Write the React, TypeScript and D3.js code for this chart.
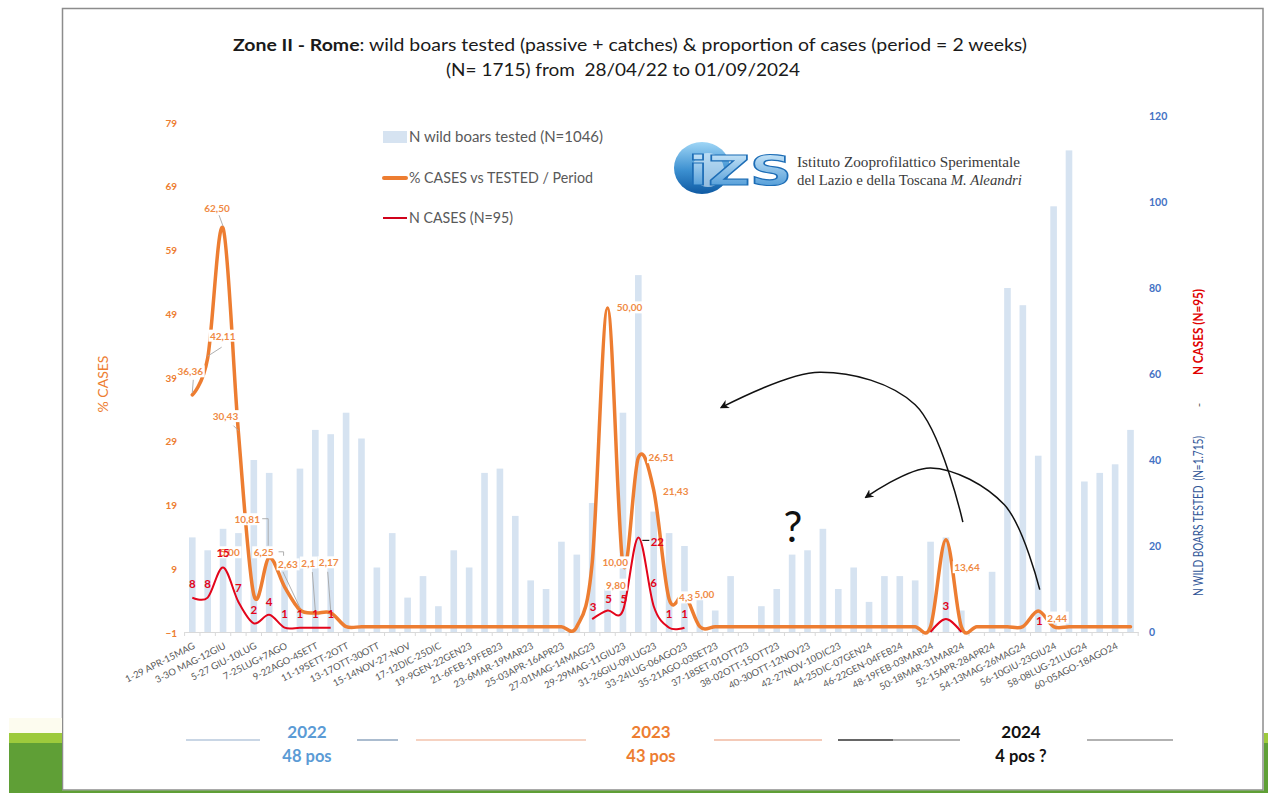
import { useEffect, useRef } from "react";
import * as d3 from "d3";

const W = 1268;
const H = 793;
const FONT = "Lato, 'Liberation Sans', Arial, sans-serif";

const ORANGE = "#ed7d31";
const RED = "#e3051b";
const BAR = "#d6e3f1";
const GREY_TXT = "#595959";

// x-axis labels, one every second fortnight
const TICK_LABELS = [
  "1-29 APR-15MAG", "3-3O MAG-12GIU", "5-27 GIU-10LUG", "7-25LUG+7AGO", "9-22AGO-4SETT",
  "11-19SETT-2OTT", "13-17OTT-30OTT", "15-14NOV-27-NOV", "17-12DIC-25DIC", "19-9GEN-22GEN23",
  "21-6FEB-19FEB23", "23-6MAR-19MAR23", "25-03APR-16APR23", "27-01MAG-14MAG23", "29-29MAG-11GIU23",
  "31-26GIU-09LUG23", "33-24LUG-06AGO23", "35-21AGO-03SET23", "37-18SET-01OTT23", "38-02OTT-15OTT23",
  "40-30OTT-12NOV23", "42-27NOV-10DIC23", "44-25DIC-07GEN24", "46-22GEN-04FEB24", "48-19FEB-03MAR24",
  "50-18MAR-31MAR24", "52-15APR-28APR24", "54-13MAG-26MAG24", "56-10GIU-23GIU24", "58-08LUG-21LUG24",
  "60-05AGO-18AGO24",
];

// N wild boars tested per fortnight (right axis)
const TESTED = [
  22, 19, 24, 23, 40, 37, 16, 38, 47, 46,
  51, 45, 15, 23, 8, 13, 6, 19, 15, 37, 38, 27, 12, 10, 21, 18,
  30, 10, 51, 83, 28, 23, 20,
  8, 5, 13, 0, 6, 10, 18, 19, 24, 10, 15, 7, 13, 13, 12, 21, 22, 5, 0, 14,
  80, 76, 41, 99, 112, 35, 37, 39, 47,
];

// % cases vs tested per fortnight (left axis)
const PCT = [
  36.36, 42.11, 62.5, 30.43, 5.0, 10.81, 6.25, 2.63, 2.13, 2.17,
  0, 0, 0, 0, 0, 0, 0, 0, 0, 0, 0, 0, 0, 0, 0, 0,
  10.0, 50.0, 9.8, 26.51, 21.43, 4.35, 5.0,
  0, 0, 0, 0, 0, 0, 0, 0, 0, 0, 0, 0, 0, 0, 0, 0,
  13.64, 0, 0, 0, 0, 0, 2.44, 0, 0, 0, 0, 0, 0,
];

// N cases per fortnight (right axis); null = not drawn
const CASES: (number | null)[] = [
  8, 8, 15, 7, 2, 4, 1, 1, 1, 1,
  null, null, null, null, null, null, null, null, null, null, null, null, null, null, null, null,
  3, 5, 5, 22, 6, 1, 1,
  null, null, null, null, null, null, null, null, null, null, null, null, null, null, null,
  0, 3, 0, null, null, null, null, 1, null, null, null, null, null, null,
];

// data labels of the % series as printed
const PCT_LABEL_IDX = [0, 1, 2, 3, 4, 5, 6, 7, 8, 9, 26, 27, 28, 29, 30, 31, 32, 49, 55];
const PCT_LABEL_TEXT = [
  "36,36", "42,11", "62,50", "30,43", "5,00", "10,81", "6,25", "2,63", "2,1", "2,17",
  "10,00", "50,00", "9,80", "26,51", "21,43", "4,3", "5,00", "13,64", "2,44",
];
const CASES_LABEL_IDX = [0, 1, 2, 3, 4, 5, 6, 7, 8, 9, 26, 27, 28, 29, 30, 31, 32, 49, 55];

const YEARS = ["2022", "2023", "2024"];
const YEAR_POS = ["48 pos", "43 pos", "4 pos ?"];

// --- layout (px offsets of labels from their point) ---
const PCT_LABEL_OFFSET: [number, number][] = [
  [-2, -23], [15, -22], [-6, -20], [-13, -16], [-24, -42], [-22, -38], [-21, -34], [-12, -45], [-7, -50], [-2, -50],
  [23, 0], [22, 0], [-7, 21], [23, 0], [22, 1], [17, -1], [20, 0], [21, 28], [19, 7],
];
// leader start relative to the label centre, null = no leader
const PCT_LEADER: ([number, number] | null)[] = [
  [3, 8], [-1, 11], [2, 7], [8, 9], null, null, null, [-5, 7], [4, 9], [-1, 9],
  null, null, null, null, null, null, null, null, null,
];
const CASES_LABEL_OFFSET: Record<number, [number, number]> = {
  2: [0, -15], 4: [0, -13], 5: [0, -13], 26: [1, -12], 27: [1, -12], 28: [1, -12],
  29: [19, 5], 30: [0, -23], 49: [0, -13], 55: [1, -7],
};
// hand-drawn arrows, points in (period index, %) space
const ARROWS: [number, number][][] = [
  [[50.1, 16.4], [47.0, 34.8], [40.8, 39.9], [34.4, 34.4]],
  [[55.1, 5.8], [52.8, 19.1], [48.0, 24.9], [43.8, 20.3]],
];
const YEAR_X = [307, 651, 1021];
const YEAR_RULES: [number, number, string][] = [
  [186, 260, "#b7c9dd"], [357, 398, "#8fa6bf"], [416, 586, "#f3c3ad"], [714, 822, "#f0b9a0"],
  [838, 893, "#333"], [893, 960, "#999"], [1087, 1173, "#999"],
];

export default function App() {
  const ref = useRef<SVGSVGElement>(null);

  useEffect(() => {
    if (!ref.current) return;
    const svg = d3.select(ref.current);
    svg.selectAll("*").remove();

    const n = TESTED.length;
    const x = d3.scaleBand<number>().domain(d3.range(n)).range([184.6, 1138.2]);
    const cx = (i: number) => (x(i) ?? 0) + x.bandwidth() / 2;
    const xi = d3.scaleLinear().domain([0, n - 1]).range([cx(0), cx(n - 1)]);
    const yPct = d3.scaleLinear().domain([-1, 79]).range([633, 123]);
    const yN = d3.scaleLinear().domain([0, 120]).range([632, 116]);
    const base = yN(0);

    // page + slide frame + green deco
    svg.append("rect").attr("width", W).attr("height", H).attr("fill", "#fff");
    svg.append("rect").attr("x", 62.5).attr("y", 8.5).attr("width", 1200.5).attr("height", 781.5)
      .attr("fill", "#fff").attr("stroke", "#8c8c8c").attr("stroke-width", 1.5);
    svg.append("rect").attr("x", 9).attr("y", 718).attr("width", 53).attr("height", 15).attr("fill", "#fdfcef");
    [[9, 53], [1264, 4]].forEach(([gx, gw]) => {
      svg.append("rect").attr("x", gx).attr("y", 733).attr("width", gw).attr("height", 10).attr("fill", "#9dca3c");
      svg.append("rect").attr("x", gx).attr("y", 743).attr("width", gw).attr("height", 50).attr("fill", "#5f9f36");
    });
    svg.append("rect").attr("x", 9).attr("y", 790.5).attr("width", 1259).attr("height", 3).attr("fill", "#5f9f36");

    // title
    const t1 = svg.append("text").attr("x", 233).attr("y", 51)
      .attr("font-family", FONT).attr("font-size", 17).attr("fill", "#1a1a1a")
      .attr("textLength", 794).attr("lengthAdjust", "spacingAndGlyphs");
    t1.append("tspan").attr("font-weight", "bold").text("Zone II - Rome");
    t1.append("tspan").text(": wild boars tested (passive + catches) & proportion of cases (period = 2 weeks)");
    svg.append("text").attr("x", 623).attr("y", 76).attr("text-anchor", "middle")
      .attr("font-family", FONT).attr("font-size", 17).attr("fill", "#1a1a1a")
      .style("white-space", "pre")
      .attr("textLength", 354).attr("lengthAdjust", "spacingAndGlyphs")
      .text("(N= 1715) from  28/04/22 to 01/09/2024");

    // bars
    const bw = x.bandwidth() * 0.43;
    svg.append("g").selectAll("rect").data(TESTED).join("rect")
      .attr("x", (_, i) => cx(i) - bw / 2)
      .attr("y", d => yN(d))
      .attr("width", bw)
      .attr("height", d => base - yN(d))
      .attr("fill", BAR);

    // category axis
    const gx = svg.append("g").attr("transform", `translate(0,${base})`)
      .call(d3.axisBottom(x)
        .tickValues(d3.range(0, TICK_LABELS.length * 2, 2))
        .tickFormat(i => TICK_LABELS[i / 2])
        .tickSize(0).tickSizeOuter(0));
    gx.attr("font-family", FONT).attr("font-size", 9.5);
    gx.select(".domain").attr("stroke", "#d9d9d9");
    gx.selectAll("text")
      .attr("x", 0).attr("y", 0).attr("dy", "0.35em")
      .attr("transform", "translate(2,13) rotate(-27)")
      .attr("text-anchor", "end").attr("fill", GREY_TXT);
    svg.append("g").selectAll("line").data(d3.range(n + 1)).join("line")
      .attr("x1", i => (x(0) ?? 0) + i * x.step()).attr("x2", i => (x(0) ?? 0) + i * x.step())
      .attr("y1", base).attr("y2", base + 4)
      .attr("stroke", "#d9d9d9");

    // value axes
    const gL = svg.append("g").attr("transform", "translate(177,0)")
      .call(d3.axisLeft(yPct).tickValues(d3.range(-1, 80, 10)).tickSize(0).tickPadding(0));
    gL.attr("font-family", FONT).attr("font-size", 10).attr("font-weight", "bold");
    gL.select(".domain").remove();
    gL.selectAll("text").attr("fill", ORANGE);

    const gR = svg.append("g").attr("transform", "translate(1149,0)")
      .call(d3.axisRight(yN).tickValues(d3.range(0, 121, 20)).tickSize(0).tickPadding(0));
    gR.attr("font-family", FONT).attr("font-size", 10.5).attr("font-weight", "bold");
    gR.select(".domain").remove();
    gR.selectAll("text").attr("fill", "#4472c4");

    svg.append("text").attr("transform", "translate(108,384) rotate(-90)").attr("text-anchor", "middle")
      .attr("font-family", FONT).attr("font-size", 14).attr("fill", ORANGE).text("% CASES");
    svg.append("text").attr("transform", "translate(1203,332) rotate(-90)").attr("text-anchor", "middle")
      .attr("font-family", FONT).attr("font-size", 12.5).attr("font-weight", "bold").attr("fill", "#e00000")
      .attr("textLength", 86).attr("lengthAdjust", "spacingAndGlyphs").text("N CASES (N=95)");
    svg.append("text").attr("transform", "translate(1203,405) rotate(-90)").attr("text-anchor", "middle")
      .attr("font-family", FONT).attr("font-size", 12).attr("fill", "#555").text("-");
    svg.append("text").attr("transform", "translate(1203,516) rotate(-90)").attr("text-anchor", "middle")
      .attr("font-family", FONT).attr("font-size", 12.5).attr("fill", "#2f5597").style("white-space", "pre")
      .attr("textLength", 160).attr("lengthAdjust", "spacingAndGlyphs").text("N WILD BOARS TESTED  (N=1.715)");

    // lines
    const pctLine = d3.line<number>()
      .x((_, i) => cx(i)).y(d => yPct(d))
      .curve(d3.curveCatmullRom.alpha(0));
    svg.append("path").attr("d", pctLine(PCT) ?? "")
      .attr("fill", "none").attr("stroke", ORANGE).attr("stroke-width", 3.5)
      .attr("stroke-linecap", "round").attr("stroke-linejoin", "round");

    const casesLine = d3.line<number | null>()
      .defined(d => d !== null)
      .x((_, i) => cx(i)).y(d => yN(d ?? 0))
      .curve(d3.curveCatmullRom.alpha(0));
    svg.append("path").attr("d", casesLine(CASES) ?? "")
      .attr("fill", "none").attr("stroke", RED).attr("stroke-width", 2);

    // leader lines
    PCT_LABEL_IDX.forEach((i, k) => {
      const lead = PCT_LEADER[k];
      if (!lead) return;
      const [dx, dy] = PCT_LABEL_OFFSET[k];
      const lx = cx(i) + dx, ly = yPct(PCT[i]) + dy;
      svg.append("line")
        .attr("x1", lx + lead[0]).attr("y1", ly + lead[1])
        .attr("x2", cx(i)).attr("y2", yPct(PCT[i]) - 2)
        .attr("stroke", "#a6a6a6").attr("stroke-width", 0.9);
    });
    // bracket leaders for 10,81 and 6,25
    [5, 6].forEach(k => {
      const i = PCT_LABEL_IDX[k];
      const [dx, dy] = PCT_LABEL_OFFSET[k];
      const lx = cx(i) + dx, ly = yPct(PCT[i]) + dy;
      const drop = k === 5 ? yPct(PCT[i]) - 12 : ly + 3;
      svg.append("polyline")
        .attr("points", `${lx + 15},${ly - 1} ${cx(i) - 1},${ly - 1} ${cx(i) - 1},${drop}`)
        .attr("fill", "none").attr("stroke", "#a6a6a6").attr("stroke-width", 0.9);
    });

    // % labels with white boxes
    const gPL = svg.append("g").attr("font-family", FONT).attr("font-size", 10).attr("font-weight", "bold");
    PCT_LABEL_IDX.forEach((i, k) => {
      const [dx, dy] = PCT_LABEL_OFFSET[k];
      const lx = cx(i) + dx, ly = yPct(PCT[i]) + dy;
      const g = gPL.append("g");
      const box = g.append("rect").attr("fill", "#fff");
      const t = g.append("text").attr("x", lx).attr("y", ly).attr("dy", "0.35em")
        .attr("text-anchor", "middle").attr("fill", "#ef8a45").text(PCT_LABEL_TEXT[k]);
      const bb = (t.node() as SVGTextElement).getBBox();
      box.attr("x", bb.x - 1.5).attr("y", bb.y).attr("width", bb.width + 3).attr("height", bb.height);
    });

    // N cases labels
    const gCL = svg.append("g").attr("font-family", FONT).attr("font-size", 11.5).attr("font-weight", "bold");
    CASES_LABEL_IDX.forEach(i => {
      const v = CASES[i] ?? 0;
      const [dx, dy] = CASES_LABEL_OFFSET[i] ?? [0, -14];
      gCL.append("text").attr("x", cx(i) + dx).attr("y", yN(v) + dy).attr("dy", "0.35em")
        .attr("text-anchor", "middle").attr("fill", RED).text(String(v));
    });
    svg.append("line")
      .attr("x1", cx(29) + 4).attr("x2", cx(29) + 11)
      .attr("y1", yN(CASES[29] ?? 0) + 3).attr("y2", yN(CASES[29] ?? 0) + 3)
      .attr("stroke", "#222").attr("stroke-width", 1.2);

    // legend
    const lg = svg.append("g").attr("font-family", FONT).attr("font-size", 14.5).attr("fill", GREY_TXT);
    lg.append("rect").attr("x", 383).attr("y", 131).attr("width", 24).attr("height", 12).attr("fill", BAR);
    lg.append("text").attr("x", 409).attr("y", 137).attr("dy", "0.35em")
      .attr("textLength", 194).attr("lengthAdjust", "spacingAndGlyphs").text("N wild boars tested (N=1046)");
    lg.append("line").attr("x1", 384).attr("x2", 406).attr("y1", 178).attr("y2", 178)
      .attr("stroke", ORANGE).attr("stroke-width", 4).attr("stroke-linecap", "round");
    lg.append("text").attr("x", 409).attr("y", 178).attr("dy", "0.35em")
      .attr("textLength", 184).attr("lengthAdjust", "spacingAndGlyphs").text("% CASES vs TESTED / Period");
    lg.append("line").attr("x1", 383).attr("x2", 407).attr("y1", 218).attr("y2", 218)
      .attr("stroke", "#d0021b").attr("stroke-width", 2);
    lg.append("text").attr("x", 409).attr("y", 218).attr("dy", "0.35em")
      .attr("textLength", 104).attr("lengthAdjust", "spacingAndGlyphs").text("N CASES (N=95)");

    // logo
    const defs = svg.append("defs");
    const lgA = defs.append("linearGradient").attr("id", "izsA").attr("x1", 0).attr("y1", 0).attr("x2", 0).attr("y2", 1);
    lgA.append("stop").attr("offset", "0%").attr("stop-color", "#9fd6f6");
    lgA.append("stop").attr("offset", "55%").attr("stop-color", "#3b8fd0");
    lgA.append("stop").attr("offset", "100%").attr("stop-color", "#0f5aa3");
    const lgB = defs.append("linearGradient").attr("id", "izsB").attr("x1", 0).attr("y1", 0).attr("x2", 0).attr("y2", 1);
    lgB.append("stop").attr("offset", "0%").attr("stop-color", "#d8effc");
    lgB.append("stop").attr("offset", "100%").attr("stop-color", "#3a8ed2");
    svg.append("ellipse").attr("cx", 702).attr("cy", 168).attr("rx", 28).attr("ry", 26).attr("fill", "url(#izsA)");
    svg.append("ellipse").attr("cx", 708).attr("cy", 170).attr("rx", 16).attr("ry", 17).attr("fill", "#e6f4fc").attr("opacity", 0.6);
    svg.append("text").attr("x", 688).attr("y", 185)
      .attr("font-family", "'DejaVu Sans', sans-serif").attr("font-size", 40).attr("font-weight", "bold")
      .attr("fill", "url(#izsB)").attr("stroke", "#1d6db6").attr("stroke-width", 1.2)
      .attr("textLength", 104).attr("lengthAdjust", "spacingAndGlyphs").text("iZS");
    const lt = svg.append("g").attr("font-family", "'Liberation Serif', 'DejaVu Serif', serif")
      .attr("font-size", 14).attr("fill", "#3a3a3a");
    lt.append("text").attr("x", 797).attr("y", 162).attr("dy", "0.35em")
      .attr("textLength", 223).attr("lengthAdjust", "spacingAndGlyphs").text("Istituto Zooprofilattico Sperimentale");
    const l2 = lt.append("text").attr("x", 797).attr("y", 180).attr("dy", "0.35em")
      .attr("textLength", 225).attr("lengthAdjust", "spacingAndGlyphs");
    l2.append("tspan").text("del Lazio e della Toscana ");
    l2.append("tspan").attr("font-style", "italic").text("M. Aleandri");

    // annotations
    defs.append("marker").attr("id", "arr").attr("viewBox", "0 0 10 10")
      .attr("refX", 8).attr("refY", 5).attr("markerWidth", 9).attr("markerHeight", 9)
      .attr("markerUnits", "userSpaceOnUse").attr("orient", "auto")
      .append("path").attr("d", "M0,0 L10,5 L0,10 L3,5 z").attr("fill", "#111");
    const arrowLine = d3.line<[number, number]>()
      .x(d => xi(d[0])).y(d => yPct(d[1]))
      .curve(d3.curveCatmullRom.alpha(0.5));
    ARROWS.forEach(pts => {
      svg.append("path").attr("d", arrowLine(pts) ?? "")
        .attr("fill", "none").attr("stroke", "#111").attr("stroke-width", 1.5)
        .attr("marker-end", "url(#arr)");
    });
    svg.append("text").attr("x", 793).attr("y", 542).attr("text-anchor", "middle")
      .attr("font-family", FONT).attr("font-size", 42).attr("fill", "#111").text("?");

    // year summary
    YEAR_RULES.forEach(([a, b, c]) => {
      svg.append("line").attr("x1", a).attr("x2", b).attr("y1", 740).attr("y2", 740)
        .attr("stroke", c).attr("stroke-width", 1.6);
    });
    const yearColors = ["#5b9bd5", ORANGE, "#111"];
    YEARS.forEach((yr, k) => {
      svg.append("text").attr("x", YEAR_X[k]).attr("y", 732).attr("dy", "0.35em").attr("text-anchor", "middle")
        .attr("font-family", FONT).attr("font-size", 17).attr("font-weight", "bold")
        .attr("fill", yearColors[k]).text(yr);
      svg.append("text").attr("x", YEAR_X[k]).attr("y", 756).attr("dy", "0.35em").attr("text-anchor", "middle")
        .attr("font-family", FONT).attr("font-size", 16.5).attr("font-weight", "bold")
        .attr("fill", yearColors[k]).text(YEAR_POS[k]);
    });
  }, []);

  return (
    <svg
      ref={ref}
      width={W}
      height={H}
      style={{ position: "absolute", left: 0, top: 0, display: "block" }}
    />
  );
}
